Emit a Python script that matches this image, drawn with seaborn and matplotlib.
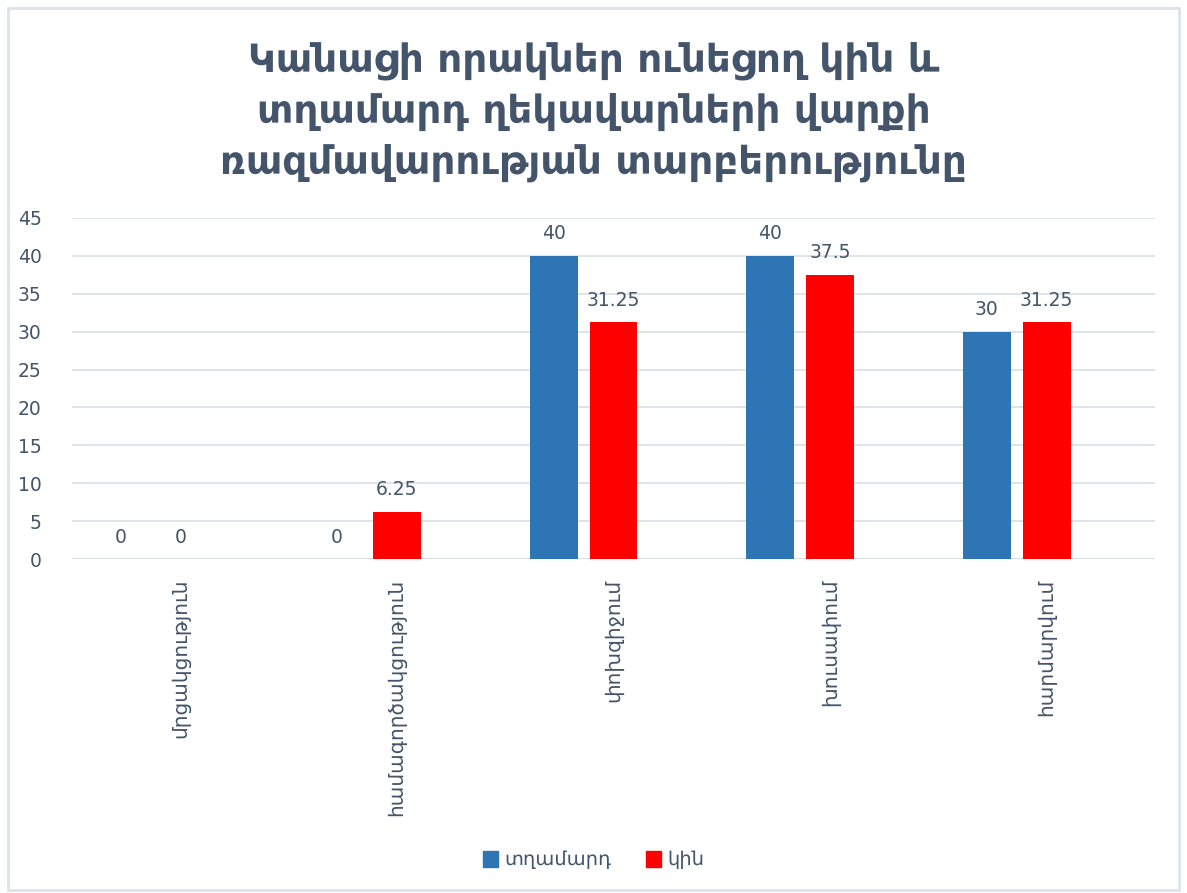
import matplotlib
matplotlib.use("Agg")
import matplotlib.pyplot as plt
import seaborn as sns
import pandas as pd
import numpy as np
from matplotlib.patches import Rectangle, Patch

# Conflict-handling strategies
categories = ["մրցակցություն", "համագործակցություն", "փոխզիջում", "խուսափում", "հարմարվում"]
men = [0, 0, 40, 40, 30]
women = [0, 6.25, 31.25, 37.5, 31.25]
series_names = ["տղամարդ", "կին"]
title = "Կանացի որակներ ունեցող կին և\nտղամարդ ղեկավարների վարքի\nռազմավարության տարբերությունը"
yticks = list(range(0, 50, 5))

text_color = "#44546A"
grid_color = "#D9DEE6"
palette = {"տղամարդ": "#2E75B6", "կին": "#FF0000", " ": "#FFFFFF"}

sns.set_theme(style="white")
plt.rcParams["font.family"] = ["DejaVu Sans"]

df = pd.concat([
    pd.DataFrame({"category": categories, "series": series_names[0], "value": men}),
    pd.DataFrame({"category": categories, "series": series_names[1], "value": women}),
    # reserved third slot (empty) that keeps the bar layout of the original workbook
    pd.DataFrame({"category": categories, "series": " ", "value": [np.nan] * len(categories)}),
], ignore_index=True)

fig = plt.figure(figsize=(11.87, 8.93), dpi=100)
ax = fig.add_axes([0.0607, 0.374, 0.9123, 0.382])

sns.barplot(data=df, x="category", y="value", hue="series",
            hue_order=series_names + [" "], order=categories,
            palette=palette, width=0.831, gap=0.2, saturation=1,
            errorbar=None, ax=ax, legend=False, zorder=3, linewidth=0)

ax.set_ylim(0, 45)
ax.set_yticks(yticks)
ax.set_xlim(-0.5, len(categories) - 0.5)
ax.yaxis.grid(True, color=grid_color, linewidth=1.2, zorder=0)
ax.set_axisbelow(True)
for s in ax.spines.values():
    s.set_visible(False)
ax.set_xlabel("")
ax.set_ylabel("")
ax.tick_params(axis="y", length=0, pad=22, labelsize=13.5, labelcolor=text_color)
ax.tick_params(axis="x", length=0, pad=14, labelsize=14.5, labelcolor=text_color)
ax.set_xticks(range(len(categories)))
ax.set_xticklabels(categories, rotation=90, va="top", ha="center")
ax.axhline(0, color=grid_color, linewidth=1.2, zorder=1)

# value labels above bars (skip the empty slot)
for cont, vals in zip(ax.containers[:2], [men, women]):
    labels = [f"{v:g}" for v in vals]
    ax.bar_label(cont, labels=labels, padding=9, fontsize=13.5, color=text_color)

fig.text(0.5, 0.875, title, ha="center", va="center", fontsize=28,
         fontweight="bold", color=text_color, linespacing=1.42)

# legend
handles = [Patch(color=palette[n]) for n in series_names]
fig.legend(handles, series_names, loc="center", bbox_to_anchor=(0.5, 0.037),
           ncol=2, frameon=False, fontsize=14, handlelength=0.8, handleheight=0.9,
           handletextpad=0.3, columnspacing=1.8, labelcolor=text_color)

# chart border
fig.patches.append(Rectangle((0.0065, 0.003), 0.987, 0.988, transform=fig.transFigure,
                             fill=False, edgecolor="#DDE3EC", linewidth=2))

fig.savefig("out.png", dpi=100)
